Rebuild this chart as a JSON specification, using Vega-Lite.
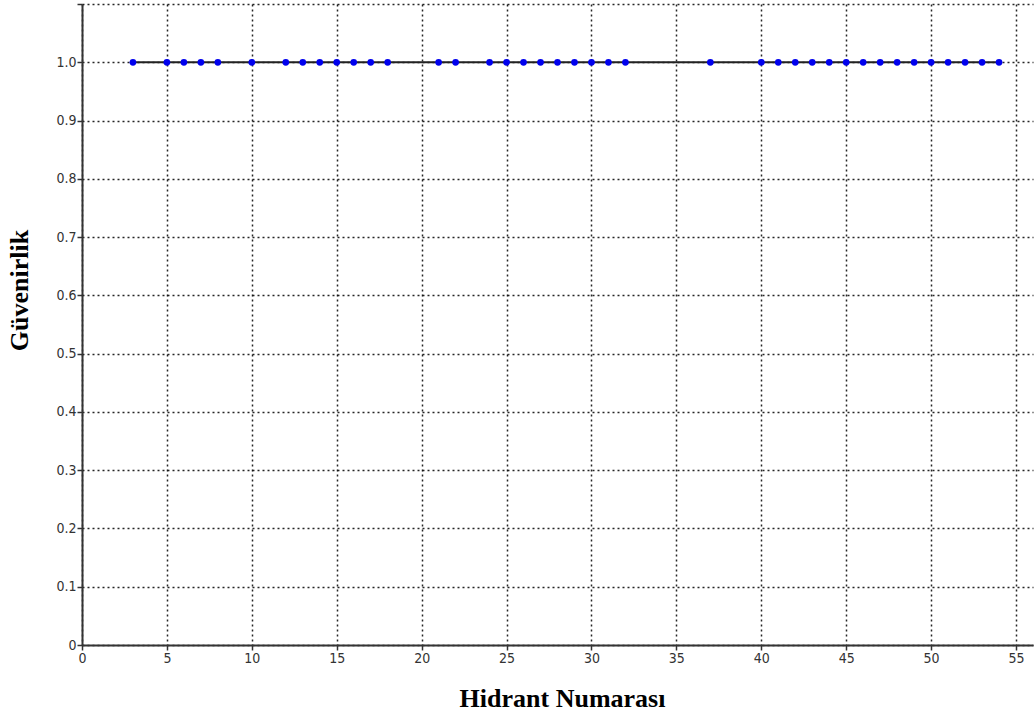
{
  "$schema": "https://vega.github.io/schema/vega-lite/v6.json",
  "autosize": {"type": "none"},
  "width": 951,
  "height": 641,
  "padding": {"left": 82, "top": 4, "right": 2, "bottom": 72},
  "background": "white",
  "config": {
    "view": {"stroke": null},
    "axis": {
      "labelFont": "DejaVu Sans Condensed, Liberation Sans Narrow, Liberation Sans, sans-serif",
      "labelFontSize": 14,
      "labelColor": "#333333",
      "domainColor": "#333333",
      "domainWidth": 2,
      "tickColor": "#333333",
      "tickSize": 5,
      "tickWidth": 1.5,
      "gridColor": "#000000",
      "gridDash": [2, 3],
      "gridWidth": 1.5,
      "gridOpacity": 0.85,
      "titleFont": "Liberation Serif",
      "titleFontWeight": "bold",
      "titleFontSize": 26,
      "titleColor": "#000000"
    }
  },
  "data": {
    "values": [
      {"hidrant": 3, "guvenirlik": 1.0},
      {"hidrant": 5, "guvenirlik": 1.0},
      {"hidrant": 6, "guvenirlik": 1.0},
      {"hidrant": 7, "guvenirlik": 1.0},
      {"hidrant": 8, "guvenirlik": 1.0},
      {"hidrant": 10, "guvenirlik": 1.0},
      {"hidrant": 12, "guvenirlik": 1.0},
      {"hidrant": 13, "guvenirlik": 1.0},
      {"hidrant": 14, "guvenirlik": 1.0},
      {"hidrant": 15, "guvenirlik": 1.0},
      {"hidrant": 16, "guvenirlik": 1.0},
      {"hidrant": 17, "guvenirlik": 1.0},
      {"hidrant": 18, "guvenirlik": 1.0},
      {"hidrant": 21, "guvenirlik": 1.0},
      {"hidrant": 22, "guvenirlik": 1.0},
      {"hidrant": 24, "guvenirlik": 1.0},
      {"hidrant": 25, "guvenirlik": 1.0},
      {"hidrant": 26, "guvenirlik": 1.0},
      {"hidrant": 27, "guvenirlik": 1.0},
      {"hidrant": 28, "guvenirlik": 1.0},
      {"hidrant": 29, "guvenirlik": 1.0},
      {"hidrant": 30, "guvenirlik": 1.0},
      {"hidrant": 31, "guvenirlik": 1.0},
      {"hidrant": 32, "guvenirlik": 1.0},
      {"hidrant": 37, "guvenirlik": 1.0},
      {"hidrant": 40, "guvenirlik": 1.0},
      {"hidrant": 41, "guvenirlik": 1.0},
      {"hidrant": 42, "guvenirlik": 1.0},
      {"hidrant": 43, "guvenirlik": 1.0},
      {"hidrant": 44, "guvenirlik": 1.0},
      {"hidrant": 45, "guvenirlik": 1.0},
      {"hidrant": 46, "guvenirlik": 1.0},
      {"hidrant": 47, "guvenirlik": 1.0},
      {"hidrant": 48, "guvenirlik": 1.0},
      {"hidrant": 49, "guvenirlik": 1.0},
      {"hidrant": 50, "guvenirlik": 1.0},
      {"hidrant": 51, "guvenirlik": 1.0},
      {"hidrant": 52, "guvenirlik": 1.0},
      {"hidrant": 53, "guvenirlik": 1.0},
      {"hidrant": 54, "guvenirlik": 1.0}
    ]
  },
  "encoding": {
    "x": {
      "field": "hidrant",
      "type": "quantitative",
      "scale": {"domain": [0, 56], "nice": false, "zero": false},
      "axis": {
        "title": "Hidrant Numarası",
        "values": [0, 5, 10, 15, 20, 25, 30, 35, 40, 45, 50, 55],
        "labelPadding": 1,
        "labelFlush": false,
        "titleX": 480,
        "titleY": 53,
        "titleAnchor": null,
        "titleBaseline": "middle",
        "titleAlign": "center"
      }
    },
    "y": {
      "field": "guvenirlik",
      "type": "quantitative",
      "scale": {"domain": [0, 1.1], "nice": false},
      "axis": {
        "title": "Güvenirlik",
        "values": [0, 0.1, 0.2, 0.3, 0.4, 0.5, 0.6, 0.7, 0.8, 0.9, 1.0, 1.1],
        "labelExpr": "datum.value == 0 ? '0' : (datum.value > 1.05 ? '' : format(datum.value, '.1f'))",
        "labelPadding": 1,
        "labelFlush": false,
        "titleX": -63,
        "titleY": 286,
        "titleAngle": -90,
        "titleBaseline": "middle",
        "titleAlign": "center"
      }
    }
  },
  "layer": [
    {
      "mark": {"type": "line", "color": "#222222", "strokeWidth": 2}
    },
    {
      "mark": {"type": "circle", "color": "#0000ee", "opacity": 1, "size": 45}
    }
  ]
}
